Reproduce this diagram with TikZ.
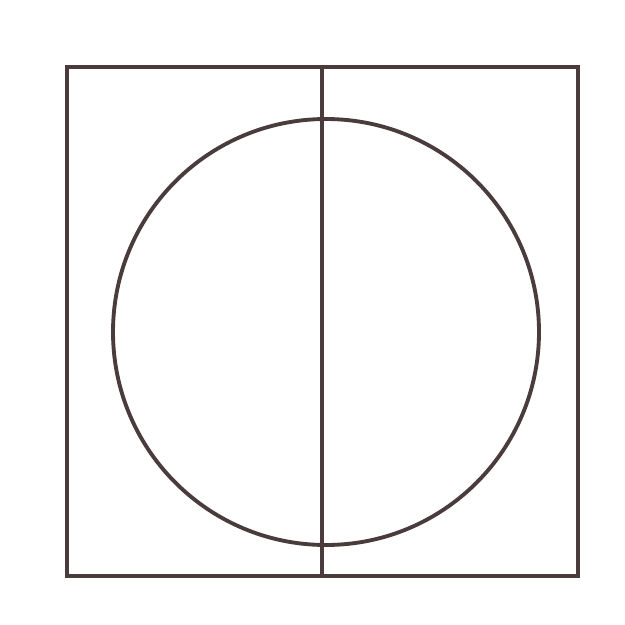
\documentclass[tikz,border=0pt]{standalone}
\usepackage{xcolor}
\definecolor{ink}{HTML}{4A3C3C}

\begin{document}
\begin{tikzpicture}[x=0.02cm, y=-0.02cm]
            \useasboundingbox (0,0) rectangle (625,625);

            %Nodes
            \coordinate (TL) at (67,67);
            \coordinate (BR) at (578,576);
            \coordinate (top) at (322,67);
            \coordinate (bot) at (322,576);
            \coordinate (C) at (326,332);

            %Lines
            \draw[ink, line width=2.2pt] (TL) rectangle (BR);
            \draw[ink, line width=2.2pt] (top) -- (bot);
            \draw[ink, line width=2.2pt] (C) circle[radius=213];
        \end{tikzpicture}
\end{document}
